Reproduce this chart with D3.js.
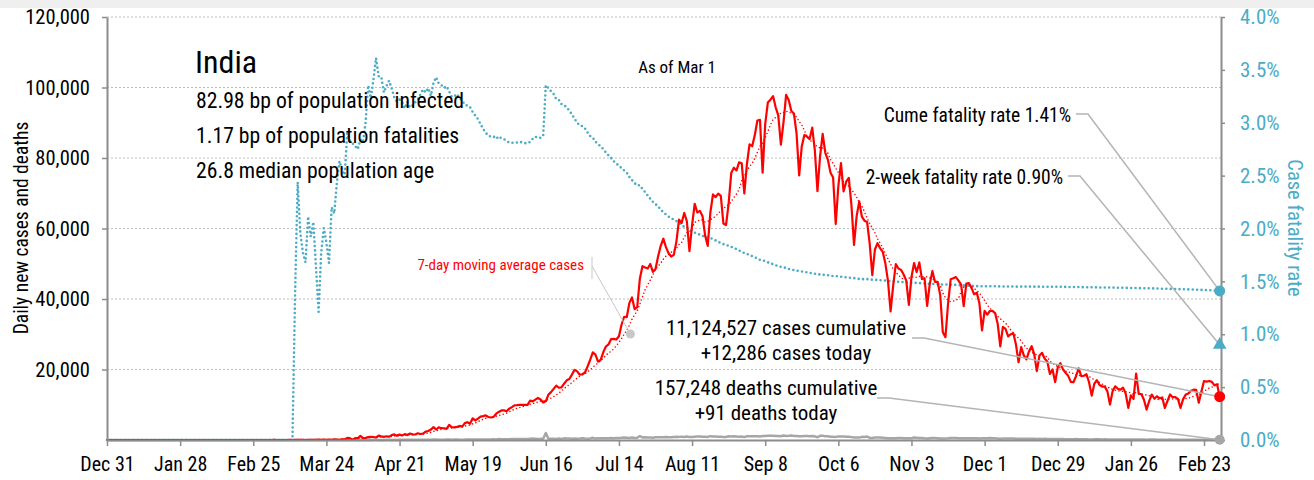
<!DOCTYPE html>
<html>
<head>
<meta charset="utf-8">
<script src="https://cdn.jsdelivr.net/npm/d3@7"></script>
<style>
  body { margin: 0; background: #fff; }
  svg text { font-family: "Liberation Sans Narrow", "Arial Narrow", "Roboto Condensed", sans-serif; }
</style>
</head>
<body>
<svg id="chart" width="1314" height="480"></svg>
<script>
// Daily new reported cases, India, Dec 31 2019 .. Mar 1 2021 (one row per month)
const newCases = [
  0,
  0,0,0,0,0,0,0,0,0,0,0,0,0,0,0,0,0,0,0,0,0,0,0,0,0,0,0,0,0,1,0,
  0,1,1,0,0,0,0,0,0,0,0,0,0,0,0,0,0,0,0,0,0,0,0,0,0,0,0,0,0,
  0,2,1,22,2,1,3,5,4,13,6,11,9,20,11,6,23,14,38,50,86,66,103,37,121,70,160,100,37,227,146,
  601,545,24,527,506,1190,533,605,809,873,848,706,1243,1031,886,1061,922,1371,1580,1239,1537,1292,1667,1408,1835,1607,1561,1902,1705,1801,
  2396,2564,2952,3656,2971,3602,3344,3339,3175,4311,3592,3562,3726,3991,3808,4794,5050,4630,6147,5553,6088,6654,6767,6977,6535,6387,6566,7466,7964,8380,8392,
  8171,8909,9304,9851,9887,9971,9983,9987,9985,11156,10956,11458,11929,11502,10667,10974,12881,13586,14516,15413,14821,14933,15968,16922,17296,18552,19906,19459,18522,18653,
  19148,20903,22771,24850,24248,22252,22752,24879,26506,27114,28637,28701,28498,29429,32695,34956,34884,38902,40425,37148,37724,45720,49310,48916,48661,49931,47703,48513,52123,55079,57118,
  54735,52972,52050,52509,56282,62538,61537,64399,62064,53601,60963,66999,64553,65002,63490,57981,55079,64531,69652,68898,69878,69239,61408,60975,67151,75760,77266,76472,78761,78512,69921,
  78357,83883,83341,86432,90632,90802,75809,89706,95735,96551,97570,94372,92071,83809,90123,97894,96424,93337,92605,86961,75083,83347,86508,86052,85362,88600,82170,70589,80472,86821,
  81484,79476,75829,74442,61267,72049,78524,70496,73272,74383,66732,55342,63509,67708,63371,62212,61871,55722,46790,54044,55839,54366,53370,50129,45148,36470,43893,49881,48648,48268,46963,
  45231,38310,46253,50209,47638,50357,45674,45903,38073,44281,47905,44879,44878,41100,30548,29163,38617,45576,45882,46232,45209,44059,37975,44376,44489,43082,41322,41810,38772,31118,
  36604,35551,36595,36652,36011,32981,26567,32080,31521,29398,30006,30254,27071,22065,26382,24010,22890,25152,26624,24337,19556,23950,24712,23067,22272,18732,20021,16432,20549,21822,20035,
  19079,18177,16504,16375,18088,20346,18139,18222,18645,16311,12584,15968,16946,15590,15158,15144,13788,10064,13823,15223,14545,14256,14849,13203,9102,12689,11666,18855,13083,13052,11427,
  8635,11039,12899,11713,12408,11831,12059,9110,11067,12923,12143,12194,11649,9121,11610,12881,13193,13993,14264,14199,10584,13742,16738,16577,16752,16488,15510,15800,
  12286
];

// Daily new reported deaths over the same days
const newDeaths = [
  0,
  0,0,0,0,0,0,0,0,0,0,0,0,0,0,0,0,0,0,0,0,0,0,0,0,0,0,0,0,0,0,0,
  0,0,0,0,0,0,0,0,0,0,0,0,0,0,0,0,0,0,0,0,0,0,0,0,0,0,0,0,0,
  0,0,0,0,0,0,0,0,0,0,0,1,1,0,0,0,1,0,1,0,0,3,3,0,1,5,3,5,3,5,3,
  23,14,0,14,13,37,14,28,48,20,42,43,27,35,12,43,38,35,38,33,53,36,40,59,45,56,58,69,71,75,
  69,100,68,175,127,92,104,96,116,111,82,121,136,98,104,118,154,131,146,132,150,142,142,156,148,172,190,177,269,205,223,
  200,221,259,275,286,297,261,266,277,352,396,386,311,325,380,2003,334,336,375,306,445,312,465,418,407,384,410,380,418,507,
  434,379,442,613,425,467,482,487,475,519,551,500,553,582,606,687,671,543,681,587,648,1129,740,757,705,708,637,785,775,779,764,
  853,771,803,857,904,886,933,861,1007,871,834,942,1007,996,944,941,876,1092,977,983,945,912,836,848,1059,1023,1057,1021,948,971,819,
  1045,1043,1096,1089,1065,1016,1133,1115,1172,1209,1201,1114,1136,1054,1290,1132,1174,1247,1133,1130,1053,1085,1129,1141,1089,1124,1039,776,1179,1181,
  1095,1069,940,903,884,986,971,964,926,918,816,706,730,680,895,871,999,579,587,717,702,690,650,578,480,488,508,517,563,551,470,
  496,490,514,704,670,577,559,490,448,512,550,547,520,447,435,449,474,585,584,564,501,511,480,481,524,492,485,496,443,482,
  501,526,540,512,482,391,385,402,412,414,442,391,336,354,387,355,338,347,341,333,301,333,312,336,251,279,279,252,286,299,256,
  224,217,214,201,264,222,234,228,201,161,167,202,198,191,175,181,145,137,162,151,163,152,155,131,117,137,123,163,137,127,118,
  94,110,107,120,95,96,80,78,80,108,87,103,92,90,81,100,101,97,101,90,83,78,104,138,120,113,113,106,
  91
];

// Axis ticks
const xTickDates = ["2019-12-31","2020-01-28","2020-02-25","2020-03-24","2020-04-21","2020-05-19","2020-06-16",
  "2020-07-14","2020-08-11","2020-09-08","2020-10-06","2020-11-03","2020-12-01","2020-12-29","2021-01-26","2021-02-23"];
const leftTicks = [20000, 40000, 60000, 80000, 100000, 120000];
const rightTicks = [0, 0.5, 1, 1.5, 2, 2.5, 3, 3.5, 4];

// Headline figures
const country = "India";
const infoLines = ["82.98 bp of population infected", "1.17 bp of population fatalities", "26.8 median population age"];
const cumeFatalityRate = 1.41;
const twoWeekFatalityRate = 0.90;
const casesCumulative = 11124527;
const casesToday = 12286;
const deathsCumulative = 157248;
const deathsToday = 91;

const cyan = "#4bacc6", red = "#ff0000", grey = "#a6a6a6", axisGrey = "#8c8c8c";

const startMs = Date.UTC(2019, 11, 31);
const dates = newCases.map((_, i) => new Date(startMs + i * 864e5));
const lastDate = dates[dates.length - 1];

// Derived series: trailing 7-day average and cumulative case fatality rate
const ma7 = newCases.map((_, i) => d3.mean(newCases.slice(Math.max(0, i - 6), i + 1)));
let cumCases = 0, cumDeaths = 0;
const cfr = newCases.map((c, i) => {
  cumCases += c; cumDeaths += newDeaths[i];
  return cumCases > 0 ? cumDeaths / cumCases * 100 : 0;
});

const svg = d3.select("#chart");
const plotL = 107, plotR = 1221, plotT = 17, plotB = 440;

svg.append("rect").attr("x", 0).attr("y", 0).attr("width", 1314).attr("height", 8).attr("fill", "#efefef");

const x = d3.scaleUtc().domain([new Date(startMs), new Date(Date.UTC(2021, 2, 1, 12))]).range([plotL, plotR]);
const yL = d3.scaleLinear().domain([0, 120000]).range([plotB, plotT]);
const yR = d3.scaleLinear().domain([0, 4]).range([plotB, plotT]);

// Dotted horizontal gridlines
svg.append("g").selectAll("line").data(leftTicks).join("line")
  .attr("x1", plotL).attr("x2", plotR)
  .attr("y1", d => yL(d)).attr("y2", d => yL(d))
  .attr("stroke", "#bdbdbd").attr("stroke-width", 1).attr("stroke-dasharray", "2,2");

// Series
const lineL = vals => d3.line().x((d, i) => x(dates[i])).y(d => yL(d))(vals);
const lineR = vals => d3.line().x((d, i) => x(dates[i])).y(d => yR(d))(vals);

svg.append("path").attr("d", lineL(newDeaths)).attr("fill", "none")
  .attr("stroke", grey).attr("stroke-width", 2.5).attr("stroke-linejoin", "round");

svg.append("path").attr("d", lineR(cfr)).attr("fill", "none")
  .attr("stroke", cyan).attr("stroke-width", 2.6).attr("stroke-linecap", "round")
  .attr("stroke-dasharray", "0,4.4");

svg.append("path").attr("d", lineL(newCases)).attr("fill", "none")
  .attr("stroke", red).attr("stroke-width", 2.2).attr("stroke-linejoin", "round");

svg.append("path").attr("d", lineL(ma7)).attr("fill", "none")
  .attr("stroke", red).attr("stroke-width", 1.6).attr("stroke-linecap", "round")
  .attr("stroke-dasharray", "0,3.6");

// Axes
function styleAxis(g, color, size) {
  g.select(".domain").attr("stroke", axisGrey).attr("stroke-width", 2);
  g.selectAll(".tick line").attr("stroke", axisGrey).attr("stroke-width", 1.5);
  g.selectAll(".tick text").attr("fill", color).style("font-size", size);
}

svg.append("g").attr("transform", `translate(${plotL},0)`)
  .call(d3.axisLeft(yL).tickValues(leftTicks).tickSize(5).tickSizeOuter(0).tickPadding(12).tickFormat(d3.format(",")))
  .call(g => styleAxis(g, "#000", "20.5px"));

svg.append("g").attr("transform", `translate(${plotR},0)`)
  .call(d3.axisRight(yR).tickValues(rightTicks).tickSize(4).tickSizeOuter(0).tickPadding(15).tickFormat(d => d.toFixed(1) + "%"))
  .call(g => styleAxis(g, cyan, "21px"));

svg.append("g").attr("transform", `translate(0,${plotB})`)
  .call(d3.axisBottom(x).tickValues(xTickDates.map(s => new Date(s + "T00:00:00Z"))).tickSize(6).tickSizeOuter(0).tickPadding(11).tickFormat(d3.utcFormat("%b %-d")))
  .call(g => styleAxis(g, "#000", "20px"));

// Axis titles
svg.append("text").attr("transform", "translate(28,228) rotate(-90)").attr("text-anchor", "middle")
  .style("font-size", "19.5px").attr("fill", "#000").text("Daily new cases and deaths");
svg.append("text").attr("transform", "translate(1288,228) rotate(90)").attr("text-anchor", "middle")
  .style("font-size", "20.5px").attr("fill", cyan).text("Case fatality rate");

// Title block
svg.append("text").attr("x", 195).attr("y", 73).style("font-size", "32px").attr("fill", "#000").text(country);
svg.append("g").selectAll("text").data(infoLines).join("text")
  .attr("x", 196).attr("y", (d, i) => 108 + i * 35).style("font-size", "21.7px").attr("fill", "#000").text(d => d);

svg.append("text").attr("x", 677).attr("y", 73).attr("text-anchor", "middle")
  .style("font-size", "17px").attr("fill", "#000").text("As of Mar 1");

// Moving-average legend label
const maDot = [x(dates[200]) + 1, 334];
svg.append("text").attr("x", 584).attr("y", 270).attr("text-anchor", "end")
  .style("font-size", "15px").attr("fill", red).text("7-day moving average cases");
svg.append("path").attr("d", `M592,257 L592,279 M592,266 L${maDot[0]},${maDot[1]}`)
  .attr("fill", "none").attr("stroke", "#c8c8c8").attr("stroke-width", 1);
svg.append("circle").attr("cx", maDot[0]).attr("cy", maDot[1]).attr("r", 4.5).attr("fill", "#c8c8c8");

// Right-hand annotations with leader lines
const xe = x(lastDate);
const fmt = d3.format(",");
const leaders = [
  { text: [`Cume fatality rate ${cumeFatalityRate.toFixed(2)}%`], size: "19.5px", tx: 1071, ty: 122, anchor: "end", lx: 1076, ly: 114, end: [xe, yR(cumeFatalityRate)] },
  { text: [`2-week fatality rate ${twoWeekFatalityRate.toFixed(2)}%`], size: "19.5px", tx: 1063, ty: 184, anchor: "end", lx: 1068, ly: 176, end: [xe, yR(twoWeekFatalityRate)] },
  { text: [`${fmt(casesCumulative)} cases cumulative`, `+${fmt(casesToday)} cases today`], size: "21px", tx: 786, ty: 335, anchor: "middle", lx: 912, ly: 338, end: [xe, yL(casesToday)] },
  { text: [`${fmt(deathsCumulative)} deaths cumulative`, `+${fmt(deathsToday)} deaths today`], size: "21px", tx: 766, ty: 395, anchor: "middle", lx: 877, ly: 398, end: [xe, yL(deathsToday)] }
];
leaders.forEach(a => {
  svg.append("path").attr("d", `M${a.lx},${a.ly} L${a.lx + 12},${a.ly} L${a.end[0]},${a.end[1]}`)
    .attr("fill", "none").attr("stroke", "#b4b4b4").attr("stroke-width", 1.5);
  a.text.forEach((t, i) => {
    svg.append("text").attr("x", a.tx).attr("y", a.ty + i * 25).attr("text-anchor", a.anchor)
      .style("font-size", a.size).attr("fill", "#000").text(t);
  });
});

// End-of-series markers
svg.append("circle").attr("cx", xe).attr("cy", yR(cumeFatalityRate)).attr("r", 5.5).attr("fill", cyan);
svg.append("path").attr("transform", `translate(${xe},${yR(twoWeekFatalityRate)})`)
  .attr("d", d3.symbol(d3.symbolTriangle, 80)()).attr("fill", cyan);
svg.append("circle").attr("cx", xe).attr("cy", yL(casesToday)).attr("r", 5.5).attr("fill", red);
svg.append("circle").attr("cx", xe).attr("cy", yL(deathsToday)).attr("r", 5).attr("fill", grey);
</script>
</body>
</html>
